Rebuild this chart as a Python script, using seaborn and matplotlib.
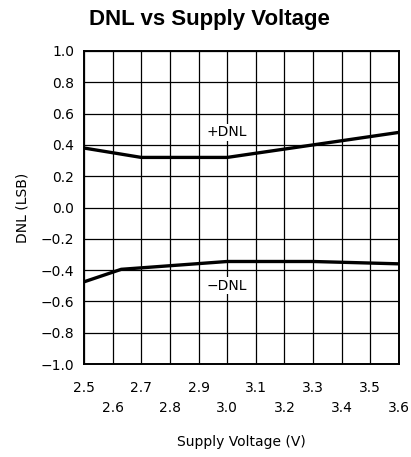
import matplotlib
matplotlib.use("Agg")
import matplotlib.pyplot as plt
import seaborn as sns
import pandas as pd
import numpy as np

# Data
vdd_pos = [2.5, 2.7, 3.0, 3.6]
dnl_pos = [0.38, 0.32, 0.32, 0.48]
vdd_neg = [2.5, 2.63, 3.0, 3.3, 3.6]
dnl_neg = [-0.475, -0.395, -0.345, -0.345, -0.36]
x_ticks = [2.5, 2.6, 2.7, 2.8, 2.9, 3.0, 3.1, 3.2, 3.3, 3.4, 3.5, 3.6]
y_ticks = [-1.0, -0.8, -0.6, -0.4, -0.2, 0.0, 0.2, 0.4, 0.6, 0.8, 1.0]

sns.set_style("white")
plt.rcParams['font.family'] = ['DejaVu Sans']
plt.rcParams['text.color'] = 'black'
plt.rcParams['axes.labelcolor'] = 'black'

df = pd.concat([
    pd.DataFrame({"v": vdd_pos, "dnl": dnl_pos, "s": "+DNL"}),
    pd.DataFrame({"v": vdd_neg, "dnl": dnl_neg, "s": "-DNL"}),
])

fig = plt.figure(figsize=(4.11, 4.57), dpi=100)
ax = fig.add_axes([84/411, 1 - 364/457, (399 - 84)/411, (364 - 51)/457])

sns.lineplot(data=df, x="v", y="dnl", units="s", estimator=None, color="black",
             linewidth=2.4, ax=ax, legend=False, zorder=3, sort=False)

ax.set_xlim(2.5, 3.6)
ax.set_ylim(-1.0, 1.0)
ax.set_xticks(x_ticks)
ax.set_xticklabels([f"{v:.1f}" if i % 2 == 0 else f"\n{v:.1f}" for i, v in enumerate(x_ticks)],
                   linespacing=1.6)
ax.set_yticks(y_ticks)
ax.set_yticklabels([f"{v:.1f}".replace("-", "\u2212") for v in y_ticks])
ax.grid(True, color="black", linewidth=0.9)
ax.tick_params(axis="x", pad=12)
ax.tick_params(axis="y", pad=7)
ax.tick_params(length=0, labelsize=10, colors="black")
for sp in ax.spines.values():
    sp.set_color("black")
    sp.set_linewidth(1.4)
    sp.set_visible(True)

ax.set_xlabel("Supply Voltage (V)", fontsize=10, labelpad=14)
ax.set_ylabel("DNL (LSB)", fontsize=10, labelpad=8)

ax.text(3.0, 0.48, "+DNL", ha="center", va="center", fontsize=10,
        bbox=dict(facecolor="white", edgecolor="none", pad=1), zorder=4)
ax.text(3.0, -0.50, "\u2212DNL", ha="center", va="center", fontsize=10,
        bbox=dict(facecolor="white", edgecolor="none", pad=1), zorder=4)

fig.text(0.51, 1 - 19/457, "DNL vs Supply Voltage", ha="center", va="center",
         fontsize=16, fontweight="bold", family=["Liberation Sans"], color="black")

fig.savefig("out.png", dpi=100)
